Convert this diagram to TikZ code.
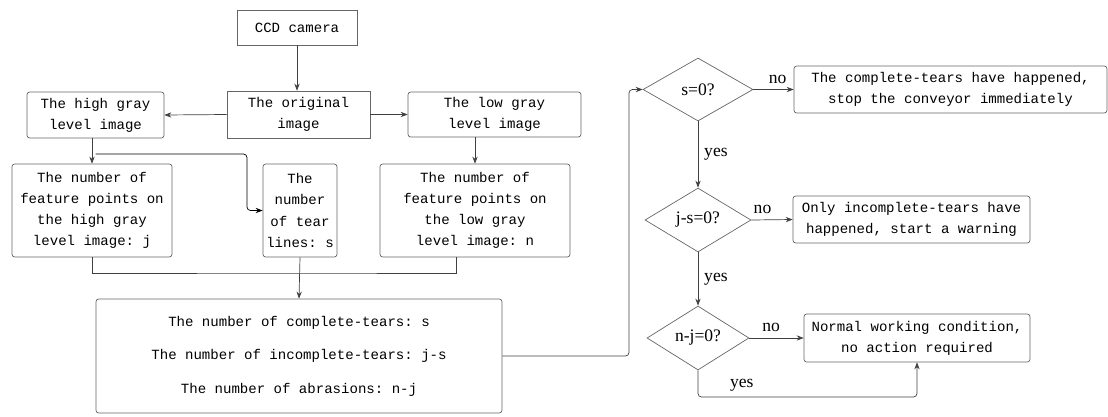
\documentclass[tikz,border=0pt]{standalone}
\usepackage{fontspec}
\setmainfont{Liberation Serif}
\setmonofont{Liberation Mono}
\usepackage{tikz}
\usetikzlibrary{arrows.meta, positioning, shapes.geometric, calc}

\begin{document}
\begin{tikzpicture}[x=0.02cm, y=-0.02cm,
    line/.style={draw=black!75, -{Stealth[length=4pt, width=3pt]}},
    box/.style={rectangle, draw=black!60, rounded corners=1.5pt, align=center, inner sep=1pt, font=\ttfamily\fontsize{8}{12}\selectfont},
    sqbox/.style={box, rounded corners=0pt},
    test/.style={diamond, draw=black!60, inner sep=0pt, font=\fontsize{10}{12}\selectfont}]
  \useasboundingbox (0,0) rectangle (1108,416);

  % Image acquisition and gray level split
  \node[sqbox, minimum width=2.4cm, minimum height=0.7cm] (cam) at (297,27.5) {CCD camera};
  \node[sqbox, minimum width=2.86cm, minimum height=0.94cm] (orig) at (298.5,114.5) {The original\\image};
  \node[box, minimum width=2.74cm, minimum height=0.92cm] (high) at (95.5,115) {The high gray\\level image};
  \node[box, minimum width=3.46cm, minimum height=0.9cm] (low) at (494.5,114.5) {The low gray\\level image};

  % Counted quantities
  \node[box, minimum width=3.2cm, minimum height=1.86cm] (featj) at (92,210.5) {The number of\\feature points on\\the high gray\\level image: j};
  \node[box, minimum width=1.48cm, minimum height=1.86cm] (tear) at (300,210.5) {The\\number\\of tear\\lines: s};
  \node[box, minimum width=3.8cm, minimum height=1.86cm] (featn) at (475,210.5) {The number of\\feature points on\\the low gray\\level image: n};
  \node[box, minimum width=8.12cm, minimum height=2.28cm] (summ) at (299,356) {The number of complete-tears: s\\[7pt]The number of incomplete-tears: j-s\\[7pt]The number of abrasions: n-j};

  % Decisions
  \node[test, minimum width=2.2cm, minimum height=1.26cm] (d1) at (698,89.5) {s=0?};
  \node[test, minimum width=2.12cm, minimum height=1.28cm] (d2) at (698,220) {j-s=0?};
  \node[test, minimum width=2.04cm, minimum height=1.28cm] (d3) at (698,338) {n-j=0?};
  \node[box, minimum width=6.26cm, minimum height=0.94cm] (stop) at (950.5,89.5) {The complete-tears have happened,\\stop the conveyor immediately};
  \node[box, minimum width=4.74cm, minimum height=0.94cm] (warn) at (911.5,219.5) {Only incomplete-tears have\\happened, start a warning};
  \node[box, minimum width=4.52cm, minimum height=0.96cm] (norm) at (917,338) {Normal working condition,\\no action required};

  \coordinate (brk) at (247,154);
  \coordinate (mrg) at (299,273);
  \coordinate (turn) at (629,89.5);
  \coordinate (bot) at (698,397);

  % Arrows
  \draw[line] (cam.south) -- (cam.south |- orig.north);
  \draw[line] (orig.west) -- (high.east);
  \draw[line] (orig.east) -- (low.west);
  \draw[line] (high.south -| featj.north) -- (featj.north);
  \draw[line, draw=black, rounded corners=2pt] (high.south |- brk) -- (brk) |- (tear.west);
  \draw[line] (featn.north |- low.south) -- (featn.north);
  \draw[draw=black!75] (featj.south) |- (mrg) -| ($(featn.south)+(-19,0)$);
  \draw[line] (tear.south) -- (summ.north);
  \draw[line, rounded corners=2pt] (summ.east) -| (turn) -- (d1.west);
  \draw[line] (d1.east) -- node[pos=0.6, above, font=\fontsize{10}{12}\selectfont] {no} (stop.west);
  \draw[line] (d1.south) -- node[midway, right, font=\fontsize{10}{12}\selectfont] {yes} (d2.north);
  \draw[line] (d2.east) -- node[pos=0.27, above, font=\fontsize{10}{12}\selectfont] {no} (warn.west);
  \draw[line] (d2.south) -- node[midway, right, font=\fontsize{10}{12}\selectfont] {yes} (d3.north);
  \draw[line] (d3.east) -- node[pos=0.4, above, font=\fontsize{10}{12}\selectfont] {no} (norm.west);
  \draw[line, rounded corners=2pt] (d3.south) -- (bot) -| node[pos=0.1, above, font=\fontsize{10}{12}\selectfont] {yes} (norm.south);
\end{tikzpicture}
\end{document}
